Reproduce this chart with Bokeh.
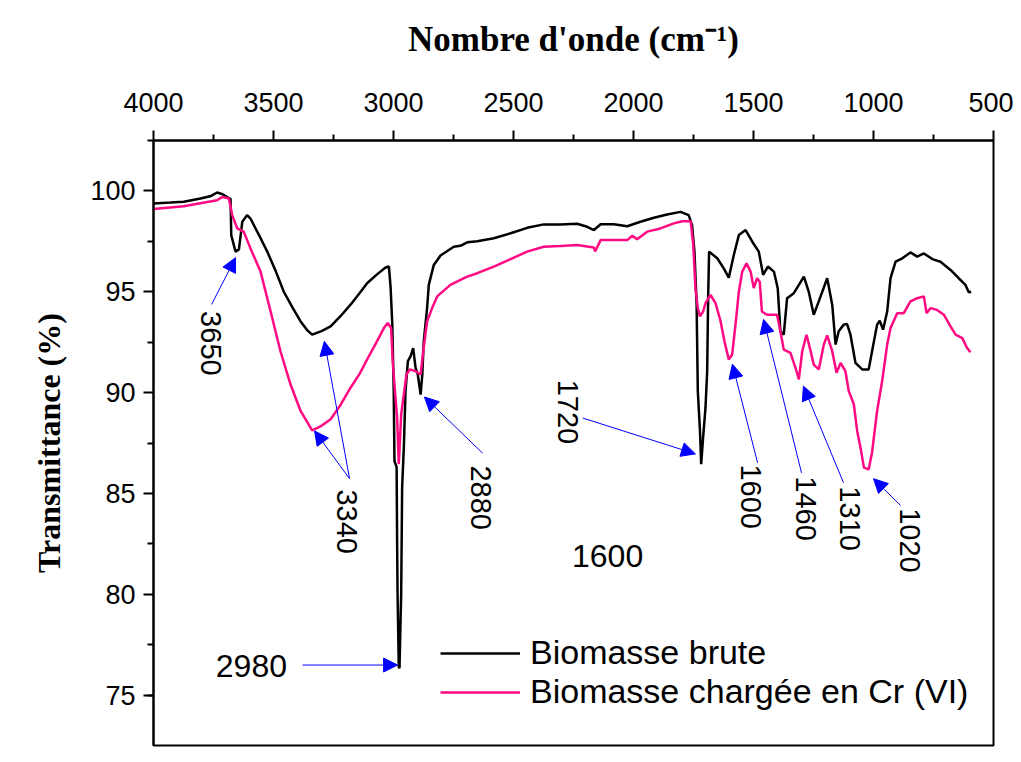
import numpy as np
from bokeh.plotting import figure
from bokeh.models import (Range1d, FixedTicker, Arrow, NormalHead, Legend,
                          LegendItem, ColumnDataSource)
from bokeh.embed import file_html
from bokeh.resources import INLINE
from bokeh.core.properties import value

# ---------------- data ----------------
wn_brute = [4000, 3929, 3874, 3804, 3760, 3735, 3715, 3693, 3679, 3676, 3665, 3658, 3644,
            3630, 3610, 3596, 3560, 3526, 3490, 3457, 3420, 3387, 3360, 3339, 3300, 3262,
            3220, 3179, 3140, 3110, 3070, 3033, 3019, 3012, 3005, 2999, 2996, 2987, 2985,
            2983, 2978, 2975, 2970, 2968, 2964, 2957, 2950, 2940, 2929, 2918, 2908, 2899,
            2887, 2880, 2874, 2860, 2853, 2832, 2804, 2749, 2721, 2693, 2651, 2582, 2512,
            2443, 2374, 2304, 2235, 2193, 2165, 2137, 2082, 2026, 1971, 1915, 1860, 1804,
            1770, 1756, 1746, 1737, 1732, 1723, 1718, 1710, 1700, 1693, 1689, 1685, 1651,
            1624, 1603, 1582, 1561, 1533, 1505, 1478, 1460, 1440, 1415, 1399, 1388, 1374,
            1360, 1332, 1311, 1290, 1270, 1249, 1228, 1193, 1172, 1158, 1145, 1124, 1110,
            1096, 1075, 1047, 1020, 1006, 985, 974, 960, 943, 929, 908, 880, 846, 818, 790,
            755, 721, 679, 645, 617, 603, 593]
t_brute = [99.37, 99.42, 99.46, 99.62, 99.75, 99.92, 99.85, 99.7, 99.6, 97.8, 97.3, 96.99,
           97.1, 98.47, 98.8, 98.63, 97.8, 96.99, 96.0, 95.0, 94.2, 93.53, 93.1, 92.87,
           93.05, 93.28, 93.8, 94.36, 94.95, 95.42, 95.85, 96.2, 96.25, 95.2, 93.37, 90.07,
           86.6, 86.3, 82.7, 80.0, 76.4, 76.33, 79.0, 80.0, 85.3, 87.27, 90.07, 91.56, 91.8,
           92.2, 91.23, 90.9, 89.9, 90.9, 92.54, 94.19, 95.34, 96.33, 96.8, 97.23, 97.28,
           97.45, 97.5, 97.65, 97.9, 98.17, 98.34, 98.34, 98.37, 98.22, 98.06, 98.35, 98.35,
           98.25, 98.47, 98.67, 98.83, 98.96, 98.8, 98.3, 96.99, 94.36, 90.07, 88.1, 86.45,
           87.77, 89.25, 91.06, 94.68, 96.99, 96.66, 96.16, 95.7, 96.82, 97.81, 98.06, 97.48,
           96.99, 95.84, 96.25, 96.0, 95.17, 93.04, 92.87, 94.68, 94.93, 95.34, 95.75, 95.01,
           93.86, 94.52, 95.67, 94.36, 92.38, 93.04, 93.37, 93.4, 92.87, 91.47, 91.15, 91.15,
           92.05, 93.37, 93.56, 93.12, 94.02, 95.67, 96.49, 96.66, 96.95, 96.74, 96.9, 96.62,
           96.49, 96.08, 95.67, 95.34, 94.98, 95.0]

wn_cr = [4000, 3874, 3735, 3714, 3686, 3672, 3651, 3624, 3596, 3554, 3512, 3471, 3429, 3387,
         3339, 3300, 3262, 3220, 3179, 3140, 3110, 3075, 3040, 3024, 3010, 3004, 2996, 2985,
         2978, 2968, 2957, 2946, 2932, 2908, 2887, 2876, 2860, 2839, 2818, 2763, 2721, 2693,
         2651, 2582, 2512, 2443, 2374, 2304, 2235, 2165, 2160, 2137, 2082, 2026, 2005, 1985,
         1943, 1888, 1832, 1797, 1762, 1751, 1742, 1732, 1723, 1710, 1700, 1679, 1658, 1637,
         1621, 1603, 1589, 1575, 1561, 1547, 1529, 1512, 1499, 1485, 1474, 1465, 1444, 1402,
         1388, 1374, 1346, 1325, 1311, 1297, 1279, 1262, 1249, 1228, 1207, 1193, 1172, 1154,
         1137, 1117, 1103, 1082, 1068, 1054, 1040, 1020, 1006, 985, 964, 943, 929, 901, 874,
         846, 818, 790, 779, 762, 735, 707, 679, 658, 630, 610, 596]
t_cr = [99.1, 99.24, 99.54, 99.7, 99.62, 98.8, 98.14, 97.98, 97.15, 96.0, 94.02, 92.05, 90.4,
        89.09, 88.13, 88.35, 88.68, 89.4, 90.24, 90.95, 91.64, 92.4, 93.2, 93.45, 93.2, 91.7,
        90.4, 88.76, 86.45, 88.92, 89.9, 90.9, 91.15, 91.06, 90.9, 92.05, 93.53, 94.19, 94.77,
        95.34, 95.59, 95.75, 95.92, 96.25, 96.62, 96.99, 97.23, 97.27, 97.32, 97.19, 97.0,
        97.56, 97.56, 97.56, 97.78, 97.6, 97.98, 98.14, 98.39, 98.5, 98.5, 97.32, 95.18, 94.19,
        93.78, 94.02, 94.43, 94.85, 94.43, 93.53, 92.54, 91.64, 91.89, 93.37, 95.01, 96.0,
        96.41, 96.0, 95.18, 95.67, 95.5, 94.02, 93.86, 93.86, 93.04, 92.13, 91.97, 91.23,
        90.65, 92.05, 92.87, 92.05, 91.39, 91.15, 92.38, 92.84, 92.05, 90.98, 91.47, 91.06,
        90.07, 89.42, 88.1, 87.27, 86.28, 86.2, 87.03, 89.09, 90.57, 92.38, 93.2, 93.94, 93.94,
        94.52, 94.68, 94.77, 93.94, 94.19, 94.1, 93.86, 93.28, 92.87, 92.7, 92.21, 92.0]

series_names = ["Biomasse brute", "Biomasse chargée en Cr (VI)"]
x_ticks = [4000, 3500, 3000, 2500, 2000, 1500, 1000, 500]
y_ticks = [75, 80, 85, 90, 95, 100]

# band annotations: label text
rot_labels = ["3650", "3340", "2880", "1720", "1600", "1460", "1310", "1020"]
hor_labels = ["2980", "1600"]

# ---------------- layout of annotations ----------------
rot_x = [3762, 3192, 2637, 2275, 1512, 1283, 1096, 846]
rot_y = [92.44, 83.6, 84.79, 89.04, 84.84, 84.25, 83.75, 82.67]
hor_x = [3592, 2108]
hor_y = [76.44, 81.88]
arrows = [  # (x_start, y_start, x_end, y_end)
    (3758, 94.37, 3658, 96.69),
    (3183, 85.73, 3329, 88.10),
    (3183, 85.73, 3288, 92.54),
    (2629, 87.00, 2871, 89.78),
    (3379, 76.49, 2983, 76.49),
    (2212, 88.74, 1742, 86.96),
    (1483, 86.52, 1588, 91.41),
    (1300, 86.02, 1458, 93.63),
    (1125, 85.53, 1292, 90.32),
    (887, 84.40, 1000, 85.73),
]

p = figure(width=1013, height=754,
           x_range=Range1d(4000, 500), y_range=Range1d(72.5, 102.5),
           x_axis_location="above",
           output_backend="svg", toolbar_location=None,
           min_border_left=153, min_border_top=140,
           min_border_right=20, min_border_bottom=9)

p.background_fill_color = "white"
p.border_fill_color = "white"
p.xgrid.visible = False
p.ygrid.visible = False
p.outline_line_color = "black"
p.outline_line_width = 2

minor_x = [x - 250 for x in x_ticks[:-1]]
minor_y = [y + 2.5 for y in [72.5] + y_ticks]
p.xaxis.ticker = FixedTicker(ticks=x_ticks, minor_ticks=minor_x)
p.yaxis.ticker = FixedTicker(ticks=y_ticks, minor_ticks=minor_y)

for ax in (p.xaxis[0], p.yaxis[0]):
    ax.axis_line_width = 2
    ax.axis_line_color = "black"
    ax.major_tick_line_width = 2
    ax.minor_tick_line_width = 2
    ax.major_tick_in = 0
    ax.major_tick_out = 10
    ax.minor_tick_in = 0
    ax.minor_tick_out = 6
    ax.major_label_text_font = "Liberation Sans"
    ax.major_label_text_font_size = "27px"
    ax.major_label_text_color = "black"
    ax.axis_label_text_font = "Liberation Serif"
    ax.axis_label_text_font_style = "bold"
    ax.axis_label_text_color = "black"

p.xaxis.axis_label = "Nombre d'onde (cm\u207b\u00b9)"
p.xaxis.axis_label_text_font_size = "35px"
p.xaxis.major_label_standoff = 19
p.xaxis.axis_label_standoff = 31
p.yaxis.axis_label = "Transmittance (%)"
p.yaxis.axis_label_text_font_size = "32px"
p.yaxis.major_label_standoff = 8
p.yaxis.axis_label_standoff = 20

r1 = p.line(wn_brute, t_brute, line_color="black", line_width=2.5)
r2 = p.line(wn_cr, t_cr, line_color="#FF0A82", line_width=2.5)

for (xs, ys, xe, ye) in arrows:
    p.add_layout(Arrow(end=NormalHead(size=14, fill_color="blue", line_color="blue"),
                       x_start=xs, y_start=ys, x_end=xe, y_end=ye,
                       line_color="blue", line_width=1))

src_rot = ColumnDataSource(dict(x=rot_x, y=rot_y, t=rot_labels))
p.text(x="x", y="y", text="t", source=src_rot, angle=-np.pi / 2,
       text_font=value("Liberation Sans"), text_font_size="29px",
       text_align="center", text_baseline="middle", text_color="black")
src_hor = ColumnDataSource(dict(x=hor_x, y=hor_y, t=hor_labels))
p.text(x="x", y="y", text="t", source=src_hor,
       text_font=value("Liberation Sans"), text_font_size="32px",
       text_align="center", text_baseline="middle", text_color="black")

legend = Legend(items=[LegendItem(label=series_names[0], renderers=[r1]),
                       LegendItem(label=series_names[1], renderers=[r2])],
                location=(283, 30))
legend.label_text_font = "Liberation Sans"
legend.label_text_font_size = "34px"
legend.label_text_color = "black"
legend.glyph_width = 80
legend.glyph_height = 30
legend.label_height = 30
legend.label_standoff = 10
legend.spacing = -5
legend.padding = 4
legend.margin = 0
legend.border_line_alpha = 0
legend.background_fill_alpha = 0
p.add_layout(legend)

open("out.html", "w").write(file_html(p, INLINE))
